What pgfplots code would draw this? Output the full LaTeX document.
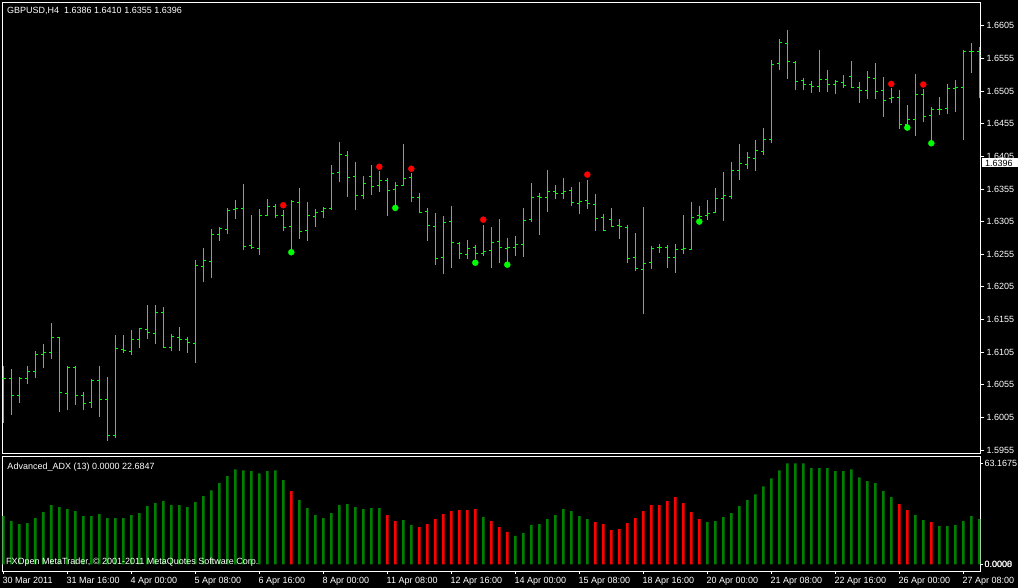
\documentclass[border=0pt]{standalone}
\usepackage{pgfplots}
\pgfplotsset{compat=1.18}
\usepackage{pgfplotstable}
\usepackage{fontspec}
\setmainfont{Liberation Sans}
\definecolor{barG}{RGB}{0,255,0}
\definecolor{dotR}{RGB}{255,0,0}
\definecolor{dotG}{RGB}{0,255,0}
\definecolor{histG}{RGB}{0,128,0}
\definecolor{histR}{RGB}{255,0,0}

\pgfplotstableread{
i O H L C
0 1.6064 1.6083 1.5996 1.6064
1 1.6064 1.6079 1.6009 1.6039
2 1.6038 1.6067 1.6027 1.6064
3 1.6064 1.6083 1.6056 1.6076
4 1.6075 1.6107 1.6066 1.6102
5 1.6102 1.6117 1.6081 1.6105
6 1.6105 1.6150 1.6095 1.6128
7 1.6127 1.6128 1.6014 1.6043
8 1.6042 1.6083 1.6017 1.6082
9 1.6082 1.6084 1.6024 1.6039
10 1.6039 1.6044 1.6017 1.6027
11 1.6028 1.6064 1.6020 1.6062
12 1.6062 1.6083 1.6006 1.6033
13 1.6032 1.6067 1.5969 1.5977
14 1.5978 1.6131 1.5974 1.6111
15 1.6109 1.6131 1.6104 1.6108
16 1.6106 1.6139 1.6101 1.6124
17 1.6125 1.6142 1.6112 1.6141
18 1.6140 1.6177 1.6125 1.6135
19 1.6133 1.6177 1.6118 1.6165
20 1.6166 1.6174 1.6112 1.6112
21 1.6112 1.6133 1.6106 1.6129
22 1.6127 1.6143 1.6107 1.6125
23 1.6125 1.6128 1.6104 1.6120
24 1.6118 1.6246 1.6089 1.6238
25 1.6236 1.6265 1.6213 1.6246
26 1.6244 1.6294 1.6219 1.6285
27 1.6285 1.6297 1.6276 1.6294
28 1.6293 1.6326 1.6286 1.6322
29 1.6324 1.6338 1.6309 1.6325
30 1.6325 1.6363 1.6262 1.6267
31 1.6269 1.6315 1.6263 1.6266
32 1.6264 1.6324 1.6254 1.6315
33 1.6315 1.6340 1.6313 1.6328
34 1.6328 1.6332 1.6311 1.6315
35 1.6315 1.6323 1.6291 1.6296
36 1.6298 1.6338 1.6262 1.6336
37 1.6334 1.6356 1.6279 1.6290
38 1.6292 1.6335 1.6276 1.6315
39 1.6313 1.6324 1.6296 1.6319
40 1.6321 1.6327 1.6311 1.6325
41 1.6325 1.6392 1.6322 1.6379
42 1.6380 1.6427 1.6365 1.6408
43 1.6406 1.6413 1.6343 1.6373
44 1.6374 1.6396 1.6322 1.6345
45 1.6345 1.6375 1.6340 1.6364
46 1.6374 1.6392 1.6345 1.6359
47 1.6360 1.6382 1.6351 1.6368
48 1.6368 1.6372 1.6313 1.6353
49 1.6354 1.6366 1.6330 1.6360
50 1.6360 1.6424 1.6360 1.6371
51 1.6373 1.6379 1.6335 1.6342
52 1.6342 1.6349 1.6318 1.6319
53 1.6321 1.6326 1.6276 1.6299
54 1.6298 1.6318 1.6239 1.6249
55 1.6250 1.6314 1.6225 1.6304
56 1.6305 1.6329 1.6234 1.6273
57 1.6272 1.6274 1.6247 1.6256
58 1.6255 1.6277 1.6247 1.6264
59 1.6266 1.6269 1.6247 1.6256
60 1.6256 1.6300 1.6252 1.6259
61 1.6261 1.6297 1.6234 1.6273
62 1.6275 1.6309 1.6241 1.6266
63 1.6264 1.6280 1.6241 1.6266
64 1.6266 1.6283 1.6253 1.6270
65 1.6270 1.6326 1.6251 1.6307
66 1.6308 1.6364 1.6305 1.6342
67 1.6344 1.6349 1.6285 1.6342
68 1.6342 1.6384 1.6319 1.6351
69 1.6351 1.6361 1.6339 1.6348
70 1.6348 1.6372 1.6340 1.6351
71 1.6353 1.6358 1.6329 1.6334
72 1.6333 1.6366 1.6316 1.6336
73 1.6338 1.6369 1.6325 1.6333
74 1.6331 1.6347 1.6291 1.6310
75 1.6311 1.6317 1.6290 1.6292
76 1.6308 1.6326 1.6296 1.6298
77 1.6299 1.6309 1.6279 1.6298
78 1.6296 1.6300 1.6241 1.6249
79 1.6250 1.6287 1.6230 1.6233
80 1.6232 1.6327 1.6164 1.6241
81 1.6243 1.6268 1.6233 1.6264
82 1.6266 1.6271 1.6257 1.6266
83 1.6266 1.6269 1.6234 1.6250
84 1.6250 1.6271 1.6227 1.6262
85 1.6262 1.6315 1.6256 1.6264
86 1.6262 1.6335 1.6262 1.6311
87 1.6315 1.6329 1.6307 1.6313
88 1.6315 1.6338 1.6308 1.6318
89 1.6319 1.6356 1.6318 1.6341
90 1.6341 1.6381 1.6306 1.6345
91 1.6344 1.6396 1.6340 1.6383
92 1.6383 1.6424 1.6369 1.6394
93 1.6393 1.6412 1.6386 1.6403
94 1.6402 1.6430 1.6383 1.6414
95 1.6413 1.6448 1.6407 1.6431
96 1.6431 1.6552 1.6426 1.6546
97 1.6547 1.6585 1.6538 1.6580
98 1.6578 1.6598 1.6524 1.6550
99 1.6549 1.6551 1.6506 1.6520
100 1.6521 1.6525 1.6507 1.6515
101 1.6515 1.6520 1.6502 1.6512
102 1.6512 1.6568 1.6504 1.6523
103 1.6523 1.6537 1.6504 1.6515
104 1.6515 1.6522 1.6501 1.6519
105 1.6518 1.6530 1.6509 1.6513
106 1.6527 1.6551 1.6509 1.6510
107 1.6511 1.6519 1.6487 1.6506
108 1.6506 1.6536 1.6493 1.6525
109 1.6524 1.6548 1.6493 1.6505
110 1.6506 1.6526 1.6466 1.6491
111 1.6493 1.6510 1.6486 1.6495
112 1.6495 1.6506 1.6447 1.6454
113 1.6453 1.6484 1.6451 1.6462
114 1.6461 1.6531 1.6436 1.6499
115 1.6500 1.6508 1.6458 1.6466
116 1.6467 1.6481 1.6424 1.6476
117 1.6476 1.6496 1.6468 1.6477
118 1.6479 1.6516 1.6470 1.6509
119 1.6509 1.6522 1.6473 1.6511
120 1.6511 1.6568 1.6430 1.6565
121 1.6565 1.6579 1.6532 1.6565
122 1.6565 1.6572 1.6495 1.6560
}\ohlc

\pgfplotstableread{
i v
0 30.1
1 27.0
2 25.1
3 25.8
4 28.9
5 32.6
6 37.0
7 35.7
8 34.5
9 33.2
10 30.1
11 30.1
12 31.4
13 28.9
14 28.9
15 28.9
16 30.8
17 32.0
18 36.4
19 38.2
20 39.5
21 37.0
22 37.0
23 35.7
24 38.9
25 42.6
26 46.3
27 50.7
28 55.1
29 59.4
30 58.8
31 58.2
32 56.9
33 58.2
34 58.8
35 52.6
37 40.1
38 35.1
39 30.8
40 28.9
41 32.0
42 37.0
43 37.6
44 35.7
45 34.5
46 35.1
47 35.1
50 27.6
51 24.5
60 29.5
64 17.7
65 19.5
66 24.5
67 25.1
68 28.3
69 30.8
70 34.5
71 33.2
72 30.1
73 28.3
88 26.4
89 27.0
90 29.5
91 32.0
92 36.4
93 40.1
94 43.8
95 48.8
96 53.8
97 58.8
98 63.2
99 63.2
100 63.2
101 60.1
102 60.1
103 60.1
104 58.2
105 58.2
106 59.4
107 54.4
108 52.0
109 50.7
110 45.7
111 42.0
114 30.8
115 27.6
117 23.9
118 23.9
119 24.5
120 27.0
121 30.1
122 28.3
}\adxgreen

\pgfplotstableread{
i v
36 45.7
48 30.8
49 27.0
52 23.3
53 25.1
54 28.3
55 31.4
56 33.2
57 33.9
58 33.9
59 34.5
61 27.0
62 23.3
63 20.2
74 26.4
75 25.1
76 21.4
77 22.0
78 25.8
79 28.9
80 33.2
81 37.0
82 37.0
83 39.5
84 42.0
85 38.2
86 32.6
87 28.3
112 37.6
113 33.9
116 26.4
}\adxred

\begin{document}
\fontsize{9}{11}\selectfont
\begin{tikzpicture}
\useasboundingbox (0,0) rectangle (1018pt,588pt);
\fill[black] (0,0) rectangle (1018pt,588pt);

% ---------- price panel ----------
\begin{axis}[
  at={(2.3pt,134.7pt)}, anchor=south west,
  scale only axis, width=978pt, height=451pt,
  xmin=-0.125, xmax=122.125, ymin=1.5950, ymax=1.6641,
  axis line style={white, line width=0.9pt},
  xtick=\empty,
  ytick={1.5955,1.6005,1.6055,1.6105,1.6155,1.6205,1.6255,1.6305,1.6355,1.6405,1.6455,1.6505,1.6555,1.6605},
  yticklabels={1.5955,1.6005,1.6055,1.6105,1.6155,1.6205,1.6255,1.6305,1.6355,1.6405,1.6455,1.6505,1.6555,1.6605},
  ytick pos=right, yticklabel pos=right,
  tick align=outside, major tick length=4pt,
  tick style={white, line width=0.8pt},
  yticklabel style={text=white, font=\fontsize{9}{11}\selectfont, inner sep=1pt, xshift=1pt},
  clip=true,
]
\addplot[barG, line width=1pt, quiver={u=0, v=\thisrow{H}-\thisrow{L}}] table[x=i, y=L] {\ohlc};
\addplot[barG, line width=1pt, quiver={u=-0.32, v=0}] table[x=i, y=O] {\ohlc};
\addplot[barG, line width=1pt, quiver={u=0.32, v=0}] table[x=i, y=C] {\ohlc};
\addplot[only marks, mark=*, mark size=3pt, dotR, mark options={draw=dotR, fill=dotR}] coordinates {
(35,1.6330) (47,1.6389) (51,1.6386) (60,1.6308) (73,1.6377) (111,1.6516) (115,1.6515)};
\addplot[only marks, mark=*, mark size=3pt, dotG, mark options={draw=dotG, fill=dotG}] coordinates {
(36,1.6258) (49,1.6326) (59,1.6242) (63,1.6239) (87,1.6305) (113,1.6449) (116,1.6425)};
\end{axis}

% ---------- ADX panel ----------
\begin{axis}[
  at={(2.3pt,17pt)}, anchor=south west,
  scale only axis, width=978pt, height=114.3pt,
  xmin=-0.125, xmax=122.125, ymin=-4.19, ymax=67.3,
  axis line style={white, line width=0.9pt},
  xtick={0,8,16,24,32,40,48,56,64,72,80,88,96,104,112,120},
  xticklabels={30 Mar 2011,31 Mar 16:00,4 Apr 00:00,5 Apr 08:00,6 Apr 16:00,8 Apr 00:00,11 Apr 08:00,12 Apr 16:00,14 Apr 00:00,15 Apr 08:00,18 Apr 16:00,20 Apr 00:00,21 Apr 08:00,22 Apr 16:00,26 Apr 00:00,27 Apr 08:00},
  xtick pos=bottom, xticklabel pos=bottom,
  ytick={0,63.1675},
  yticklabels={{\rlap{0.0000}0.0008},63.1675},
  ytick pos=right, yticklabel pos=right,
  tick align=outside, major tick length=3pt,
  tick style={white, line width=0.8pt},
  xticklabel style={text=white, font=\fontsize{9}{11}\selectfont, anchor=north west, inner sep=0pt, xshift=-0.8pt, yshift=-3pt},
  yticklabel style={text=white, font=\fontsize{9}{11}\selectfont, inner sep=1pt},
  clip=true,
]
\addplot[ybar, bar width=2.6pt, fill=histG, draw=none] table[x=i, y=v] {\adxgreen};
\addplot[ybar, bar width=2.6pt, fill=histR, draw=none] table[x=i, y=v] {\adxred};
\end{axis}

% ---------- overlay texts ----------
\node[anchor=west, text=white, inner sep=0pt] at (7pt,577.5pt) {GBPUSD,H4\ \ 1.6386 1.6410 1.6355 1.6396};
\node[anchor=west, text=white, inner sep=0pt] at (7.3pt,121pt) {Advanced\_ADX (13) 0.0000 22.6847};
\node[anchor=west, text=white, inner sep=0pt] at (6pt,25.7pt) {FXOpen MetaTrader, \textcopyright{} 2001-2011 MetaQuotes Software Corp.};
\fill[white] (981.7pt,420.5pt) rectangle (1018pt,429.5pt);
\node[anchor=west, text=black, inner sep=0pt] at (985pt,425pt) {1.6396};
\end{tikzpicture}
\end{document}
